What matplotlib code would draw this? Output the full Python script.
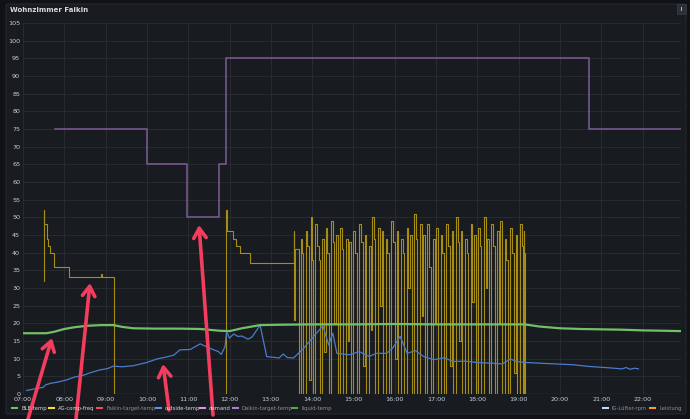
import matplotlib
matplotlib.use("Agg")
import matplotlib.pyplot as plt
from matplotlib.patches import FancyBboxPatch, Rectangle
from matplotlib.lines import Line2D

# ---- data (hours of the day) ----
hour_ticks = list(range(7, 23))
hour_labels = ["%02d:00" % h for h in hour_ticks]
y_ticks = list(range(0, 106, 5))

ble_t = [7.0, 7.57, 7.75, 8.0, 8.25, 8.54, 8.9, 9.19, 9.4, 9.67, 10.2, 10.8, 11.29, 11.77, 12.0,
         12.3, 12.74, 13.2, 14.0, 15.0, 16.0, 17.0, 18.0, 19.15, 19.5, 20.0, 20.5, 21.0, 21.5,
         22.0, 22.5, 22.93]
ble_v = [17.2, 17.2, 17.6, 18.4, 18.9, 19.3, 19.5, 19.5, 19.0, 18.6, 18.5, 18.5, 18.4, 17.9, 17.8,
         18.6, 19.5, 19.6, 19.7, 19.7, 19.8, 19.7, 19.7, 19.7, 19.1, 18.6, 18.4, 18.3, 18.2,
         18.0, 17.9, 17.8]

outside_t = [7.09, 7.3, 7.49, 7.55, 7.66, 7.85, 8.06, 8.25, 8.46, 8.65, 8.86, 9.05, 9.19, 9.4,
             9.67, 9.99, 10.24, 10.48, 10.65, 10.8, 11.05, 11.29, 11.53, 11.73, 11.8, 11.89,
             11.93, 12.0, 12.1, 12.2, 12.3, 12.45, 12.55, 12.74, 12.9, 13.2, 13.3, 13.4, 13.55,
             13.8, 14.0, 14.26, 14.4, 14.5, 14.6, 14.9, 15.14, 15.38, 15.55, 15.8, 15.95, 16.13,
             16.3, 16.5, 16.7, 16.95, 17.2, 17.4, 17.7, 18.0, 18.4, 18.6, 18.8, 18.95, 19.2,
             19.55, 19.9, 20.3, 20.7, 21.2, 21.5, 21.6, 21.7, 21.8, 21.9]
outside_v = [1.0, 1.5, 1.9, 2.6, 3.0, 3.4, 4.0, 4.8, 5.3, 6.1, 6.8, 7.2, 7.9, 7.7,
             8.0, 8.9, 9.9, 10.5, 11.0, 12.5, 12.6, 14.2, 12.9, 12.0, 11.2, 13.4,
             17.6, 15.8, 17.0, 16.3, 16.4, 15.5, 16.2, 19.5, 10.6, 10.2, 11.3, 10.3, 10.2,
             13.0, 15.8, 19.3, 13.9, 17.2, 11.5, 11.1, 12.0, 10.6, 11.5, 11.5, 13.0, 16.3,
             11.5, 12.3, 10.6, 9.7, 10.3, 9.2, 9.3, 8.9, 8.7, 8.5, 9.9, 9.2, 8.9,
             8.7, 8.5, 8.3, 7.8, 7.4, 7.1, 7.5, 7.0, 7.3, 7.1]

# AG-comp-freq as (hour, value) samples, drawn as a step line
comp_points = [
    (7.50, 32), (7.51, 52), (7.52, 48), (7.57, 44), (7.61, 42), (7.66, 40), (7.74, 36),
    (8.12, 33), (8.90, 34), (8.92, 33), (9.21, 0), (11.91, 52), (11.94, 46), (12.08, 44),
    (12.15, 42), (12.25, 40), (12.50, 37),
    (13.55, 46), (13.56, 21), (13.58, 41), (13.69, 0), (13.72, 44), (13.76, 40), (13.79, 0),
    (13.85, 46), (13.88, 42), (13.93, 4), (13.97, 50), (14.00, 38), (14.03, 0), (14.08, 48),
    (14.12, 42), (14.16, 38), (14.19, 0), (14.25, 44), (14.28, 12), (14.33, 47), (14.37, 40),
    (14.40, 0), (14.46, 49), (14.50, 43), (14.54, 20), (14.58, 45), (14.62, 0), (14.68, 47),
    (14.72, 41), (14.75, 0), (14.82, 44), (14.86, 15), (14.90, 43), (14.94, 0), (15.00, 46),
    (15.04, 40), (15.08, 0), (15.14, 48), (15.18, 43), (15.22, 8), (15.27, 45), (15.31, 0),
    (15.38, 42), (15.42, 18), (15.46, 50), (15.50, 44), (15.53, 0), (15.60, 47), (15.64, 25),
    (15.68, 46), (15.72, 0), (15.78, 44), (15.82, 40), (15.86, 0), (15.92, 49), (15.96, 43),
    (16.00, 10), (16.05, 46), (16.09, 0), (16.15, 44), (16.19, 40), (16.23, 0), (16.29, 47),
    (16.33, 30), (16.37, 45), (16.41, 0), (16.47, 51), (16.51, 44), (16.55, 0), (16.61, 48),
    (16.65, 22), (16.69, 45), (16.73, 0), (16.79, 48), (16.83, 36), (16.87, 0), (16.93, 44),
    (16.97, 20), (17.01, 47), (17.05, 0), (17.11, 45), (17.15, 40), (17.19, 0), (17.25, 48),
    (17.29, 42), (17.33, 8), (17.38, 46), (17.42, 0), (17.48, 50), (17.52, 43), (17.56, 15),
    (17.60, 46), (17.64, 0), (17.70, 44), (17.74, 40), (17.78, 0), (17.84, 48), (17.88, 26),
    (17.92, 45), (17.96, 0), (18.02, 47), (18.06, 42), (18.10, 0), (18.16, 50), (18.20, 30),
    (18.24, 44), (18.28, 0), (18.34, 48), (18.38, 42), (18.42, 0), (18.48, 46), (18.52, 20),
    (18.56, 49), (18.60, 0), (18.66, 44), (18.70, 38), (18.74, 0), (18.80, 47), (18.84, 40),
    (18.88, 6), (18.93, 45), (18.97, 0), (19.03, 48), (19.07, 42), (19.11, 0), (19.12, 46),
    (19.14, 40), (19.15, 0), (22.93, 0),
]
comp_t = [p[0] for p in comp_points]
comp_v = [p[1] for p in comp_points]

demand_t = [7.77, 10.0, 10.97, 11.75, 11.91, 20.70, 22.93]
demand_v = [75, 65, 50, 65, 95, 75, 75]

legend_left = ["BLE-temp", "AG-comp-freq", "Faikin-target-temp", "outside-temp", "demand",
               "Daikin-target-temp", "liquid-temp"]
legend_left_colors = ["#73bf69", "#fade2a", "#f2495c", "#5794f2", "#e78ef0", "#a77ed8", "#56a64b"]
legend_left_on = [True, True, False, True, True, False, False]
legend_right = ["IG-Lüfter-rpm", "Leistung"]
legend_right_colors = ["#c0d8ff", "#ff9830"]

# ---- figure ----
W, H = 690, 419
fig = plt.figure(figsize=(W / 100, H / 100), dpi=100, facecolor="#111217")
plt.rcParams["font.family"] = ["DejaVu Sans"]

panel = FancyBboxPatch((6 / W, 5 / H), 680 / W, 410 / H, boxstyle="round,pad=0,rounding_size=0.004",
                       transform=fig.transFigure, facecolor="#181b1f", edgecolor="#25282e",
                       lw=0.8, zorder=-10)
fig.patches.append(panel)

fig.text(10 / W, 1 - 10 / H, "Wohnzimmer Faikin", color="#d8d9da", fontsize=5.0,
         fontweight="bold", va="center", ha="left")
fig.patches.append(Rectangle((677 / W, 1 - 14 / H), 9 / W, 10 / H, transform=fig.transFigure,
                             facecolor="#2c3038", edgecolor="#3a3e46", lw=0.5))
fig.patches.append(Rectangle((680.5 / W, 1 - 11 / H), 1.5 / W, 4 / H, transform=fig.transFigure,
                             facecolor="#aeb0b6", edgecolor="none"))

ax = fig.add_axes([23 / W, (H - 394) / H, (681 - 23) / W, (394 - 23) / H])
ax.set_facecolor("#181b1f")
ax.set_xlim(7.0, 22.93)
ax.set_ylim(0, 105)

ax.step(demand_t, demand_v, where="post", color="#7f5b96", lw=1.1)
ax.step(comp_t, comp_v, where="post", color="#b59a16", lw=0.8, alpha=0.9)
ax.plot(outside_t, outside_v, color="#4a7ccc", lw=0.9)
ax.plot(ble_t, ble_v, color="#73bf69", lw=1.6)

ax.set_xticks(hour_ticks)
ax.set_xticklabels(hour_labels)
ax.set_yticks(y_ticks)
ax.tick_params(colors="#c7d0d9", labelsize=4.6, length=0, pad=2)
ax.grid(True, color="#2a2d33", lw=0.6)
ax.set_axisbelow(True)
for s in ax.spines.values():
    s.set_visible(False)

# ---- legend row (drawn like the Grafana panel legend) ----
ly = 1 - 408 / H
left_x = [12, 49, 97, 156, 200, 233, 292]
for x, name, c, on in zip(left_x, legend_left, legend_left_colors, legend_left_on):
    fig.lines.append(Line2D([x / W, (x + 5) / W], [ly, ly], transform=fig.transFigure,
                            color=c, lw=1.5))
    fig.text((x + 9) / W, ly, name, color="#d8d9da" if on else "#8e8e8e", fontsize=3.8,
             va="center", ha="left")
right_x = [603, 650]
for x, name, c in zip(right_x, legend_right, legend_right_colors):
    fig.lines.append(Line2D([x / W, (x + 5) / W], [ly, ly], transform=fig.transFigure,
                            color=c, lw=1.5))
    fig.text((x + 9) / W, ly, name, color="#8e8e8e", fontsize=3.8, va="center", ha="left")

# ---- hand-drawn red arrows from the screenshot ----
arrows = [((28, 419), (52, 338)), ((76, 419), (90, 283)), ((169, 410), (163, 364)),
          ((213, 415), (199, 225))]
for (x0, y0), (x1, y1) in arrows:
    ax.annotate("", xy=(x1, H - y1), xycoords="figure pixels", xytext=(x0, H - y0),
                textcoords="figure pixels",
                arrowprops=dict(arrowstyle="->,head_length=0.7,head_width=0.45", lw=2.6,
                                color="#f23d5f", shrinkA=0, shrinkB=0),
                annotation_clip=False)

fig.savefig("out.png", dpi=100, facecolor=fig.get_facecolor())
